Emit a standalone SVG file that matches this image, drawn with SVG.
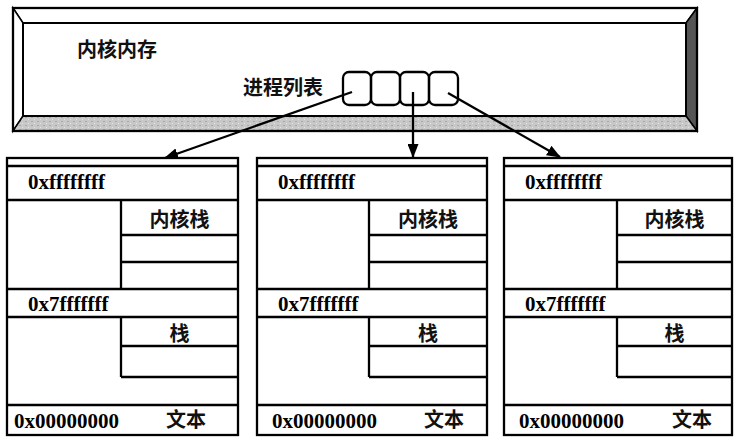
<svg xmlns="http://www.w3.org/2000/svg" width="742" height="445" viewBox="0 0 742 445">
<defs>
<style>
.ln{fill:none;stroke:#000;stroke-width:2.3}
.cj{font-family:"Noto Sans CJK SC","Noto Sans",sans-serif;font-size:20px;font-weight:700;fill:#111}
.ad{font-family:"Liberation Serif","Times New Roman",serif;font-size:21px;font-weight:bold;fill:#000}
.ar{fill:none;stroke:#000;stroke-width:2.3;marker-end:url(#ah)}
</style>
<marker id="ah" viewBox="0 0 14 11" refX="13" refY="5.5" markerWidth="14" markerHeight="11" markerUnits="userSpaceOnUse" orient="auto">
<path d="M0,0 L14,5.5 L0,11 Z" fill="#000"/>
</marker>
<pattern id="tex" width="6" height="4" patternUnits="userSpaceOnUse">
<rect width="6" height="4" fill="#c8c8c8"/>
<rect x="1" y="1" width="2" height="1" fill="#a8a8a8"/>
<rect x="4" y="3" width="1" height="1" fill="#e4e4e4"/>
</pattern>
</defs>
<rect width="742" height="445" fill="#fff"/>

<g id="kernel-memory">
<polygon points="13,8 697,8 686,23 23,23" fill="#fff" stroke="#000" stroke-width="1.5"/>
<polygon points="13,8 23,23 23,116 13,131" fill="#fff" stroke="#000" stroke-width="1.5"/>
<polygon points="697,8 697,131 686,116 686,23" fill="#555" stroke="#000" stroke-width="1.5"/>
<polygon points="13,131 23,116 686,116 697,131" fill="url(#tex)" stroke="#000" stroke-width="1.5"/>
<rect x="23" y="23" width="663" height="93" fill="#fff" stroke="#000" stroke-width="2"/>
<rect x="13" y="8" width="684" height="123" fill="none" stroke="#000" stroke-width="2.3"/>
<text class="cj" x="77" y="57">内核内存</text>
</g>

<g id="process-list">
<text class="cj" x="243" y="95">进程列表</text>
<rect x="343" y="72" width="28" height="33" rx="6" class="ln"/>
<rect x="371" y="72" width="29" height="33" rx="6" class="ln"/>
<rect x="400" y="72" width="29" height="33" rx="6" class="ln"/>
<rect x="429" y="72" width="29" height="33" rx="6" class="ln"/>
</g>

<g id="connectors">
<line class="ar" x1="352" y1="92" x2="165" y2="158"/>
<line class="ar" x1="413" y1="92" x2="413" y2="157"/>
<line class="ar" x1="448" y1="93" x2="560" y2="157"/>
</g>

<g id="process-1">
<rect x="7" y="158" width="231" height="277" class="ln"/>
<path class="ln" d="M7,166H238M7,200H238M121,200V289M121,235H238M121,262H238M7,289H238M7,317H238M121,317V377M121,346H238M121,377H238M7,405H238"/>
<text class="ad" x="28" y="189">0xffffffff</text>
<text class="cj" x="179.5" y="227" text-anchor="middle">内核栈</text>
<text class="ad" x="28" y="311">0x7fffffff</text>
<text class="cj" x="179.5" y="341" text-anchor="middle">栈</text>
<text class="ad" x="14" y="428">0x00000000</text>
<text class="cj" x="166" y="427">文本</text>
</g>

<g id="process-2">
<rect x="257" y="158" width="230" height="277" class="ln"/>
<path class="ln" d="M257,166H487M257,200H487M369,200V289M369,235H487M369,262H487M257,289H487M257,317H487M369,317V377M369,346H487M369,377H487M257,405H487"/>
<text class="ad" x="278" y="189">0xffffffff</text>
<text class="cj" x="428" y="227" text-anchor="middle">内核栈</text>
<text class="ad" x="278" y="311">0x7fffffff</text>
<text class="cj" x="428" y="341" text-anchor="middle">栈</text>
<text class="ad" x="272" y="428">0x00000000</text>
<text class="cj" x="424" y="427">文本</text>
</g>

<g id="process-3">
<rect x="504" y="158" width="228" height="277" class="ln"/>
<path class="ln" d="M504,166H732M504,200H732M617,200V289M617,235H732M617,262H732M504,289H732M504,317H732M617,317V377M617,346H732M617,377H732M504,405H732"/>
<text class="ad" x="525" y="189">0xffffffff</text>
<text class="cj" x="674.5" y="227" text-anchor="middle">内核栈</text>
<text class="ad" x="525" y="311">0x7fffffff</text>
<text class="cj" x="674.5" y="341" text-anchor="middle">栈</text>
<text class="ad" x="519" y="428">0x00000000</text>
<text class="cj" x="672" y="427">文本</text>
</g>
</svg>
